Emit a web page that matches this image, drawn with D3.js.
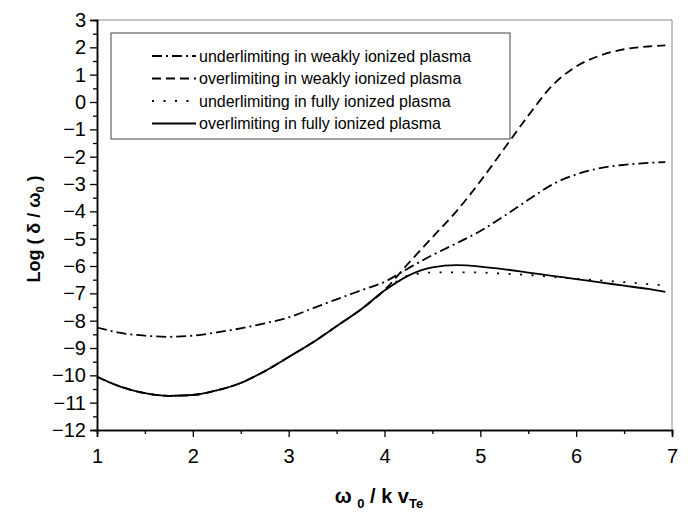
<!DOCTYPE html>
<html>
<head>
<meta charset="utf-8">
<script src="https://cdn.jsdelivr.net/npm/d3@7"></script>
<style>
  body { margin: 0; background: #fff; }
  text { font-family: "Liberation Sans", Arial, sans-serif; }
</style>
</head>
<body>
<svg id="chart"></svg>
<script>
// x positions (omega0 / k vTe) shared by all curves
const xValues = [1, 1.25, 1.5, 1.75, 2, 2.25, 2.5, 2.75, 3, 3.25, 3.5, 3.75, 4,
  4.25, 4.5, 4.75, 5, 5.25, 5.5, 5.75, 6, 6.25, 6.5, 6.75, 6.93];

const underWeak = [-8.25, -8.45, -8.55, -8.59, -8.55, -8.43, -8.28, -8.1, -7.88,
  -7.55, -7.22, -6.9, -6.58, -6.08, -5.6, -5.17, -4.72, -4.17, -3.58, -3.02,
  -2.65, -2.42, -2.3, -2.23, -2.2];
const overWeak = [-10.05, -10.42, -10.65, -10.75, -10.72, -10.55, -10.28, -9.85,
  -9.33, -8.8, -8.2, -7.6, -6.88, -5.9, -4.95, -4.0, -2.9, -1.7, -0.5, 0.6, 1.3,
  1.7, 1.93, 2.03, 2.07];
const underFull = [-10.05, -10.42, -10.65, -10.75, -10.72, -10.55, -10.28, -9.85,
  -9.33, -8.8, -8.2, -7.6, -6.9, -6.35, -6.24, -6.23, -6.24, -6.28, -6.33, -6.4,
  -6.47, -6.53, -6.59, -6.66, -6.71];
const overFull = [-10.05, -10.42, -10.65, -10.75, -10.72, -10.55, -10.28, -9.85,
  -9.33, -8.8, -8.2, -7.6, -6.9, -6.35, -6.05, -5.97, -6.02, -6.12, -6.24, -6.36,
  -6.48, -6.6, -6.72, -6.84, -6.95];

const seriesNames = [
  "underlimiting in weakly ionized plasma",
  "overlimiting in weakly ionized plasma",
  "underlimiting in fully ionized plasma",
  "overlimiting in fully ionized plasma",
];
const seriesValues = [underWeak, overWeak, underFull, overFull];
const dashes = ["10,4,2,4", "9,5", "2,9.5", null];

const xTicks = [1, 2, 3, 4, 5, 6, 7];
const yTicks = d3.range(-12, 4, 1);

const width = 692;
const height = 512;
const plotLeft = 97, plotRight = 672, plotTop = 20, plotBottom = 430;

const svg = d3.select("#chart").attr("width", width).attr("height", height);
svg.append("rect").attr("width", width).attr("height", height).attr("fill", "#fff");

const xScale = d3.scaleLinear().domain([1, 7]).range([plotLeft, plotRight]);
const yScale = d3.scaleLinear().domain([-12, 3]).range([plotBottom, plotTop]);

// frame top + right (grey)
svg.append("path")
  .attr("d", `M${plotLeft},${plotTop}H${plotRight}V${plotBottom}`)
  .attr("fill", "none")
  .attr("stroke", "#888")
  .attr("stroke-width", 1);

// axes
const xAxis = d3.axisBottom(xScale).tickValues(xTicks).tickFormat(d3.format("d"))
  .tickSize(7).tickPadding(11);
const xMinor = d3.axisBottom(xScale).tickValues(d3.range(1.5, 7, 1)).tickFormat("")
  .tickSize(4);
const yAxis = d3.axisLeft(yScale).tickValues(yTicks).tickFormat(d3.format("d"))
  .tickSize(7).tickPadding(4);
const yMinor = d3.axisLeft(yScale).tickValues(d3.range(-11.5, 3, 1)).tickFormat("")
  .tickSize(4);

const gx = svg.append("g").attr("id", "x-axis")
  .attr("transform", "translate(0," + plotBottom + ")").call(xAxis);
svg.append("g").attr("transform", "translate(0," + plotBottom + ")").call(xMinor);
const gy = svg.append("g").attr("id", "y-axis")
  .attr("transform", "translate(" + plotLeft + ",0)").call(yAxis);
svg.append("g").attr("transform", "translate(" + plotLeft + ",0)").call(yMinor);

svg.selectAll(".domain").attr("stroke", "#000").attr("stroke-width", 1.5);
svg.selectAll(".tick line").attr("stroke", "#000").attr("stroke-width", 1.3);
svg.selectAll(".tick text")
  .attr("font-family", "Liberation Sans, Arial, sans-serif")
  .attr("font-size", 20)
  .attr("fill", "#000");
gx.selectAll(".tick text").attr("dy", "0.75em");

// curves
const line = d3.line()
  .x((d) => xScale(d[0]))
  .y((d) => yScale(d[1]))
  .curve(d3.curveMonotoneX);

seriesValues.forEach((vals, i) => {
  svg.append("path")
    .datum(xValues.map((x, j) => [x, vals[j]]))
    .attr("d", line)
    .attr("fill", "none")
    .attr("stroke", "#000")
    .attr("stroke-width", 1.8)
    .attr("stroke-dasharray", dashes[i]);
});

// legend
const legend = svg.append("g").attr("id", "legend");
legend.append("rect")
  .attr("x", 111).attr("y", 33)
  .attr("width", 399).attr("height", 106)
  .attr("fill", "#fff")
  .attr("stroke", "#444")
  .attr("stroke-width", 1);

seriesNames.forEach((name, i) => {
  const y = 56 + i * 22.5;
  legend.append("line")
    .attr("x1", 152).attr("x2", 196)
    .attr("y1", y).attr("y2", y)
    .attr("stroke", "#000")
    .attr("stroke-width", 1.8)
    .attr("stroke-dasharray", dashes[i]);
  legend.append("text")
    .attr("x", 199).attr("y", y)
    .attr("dy", "0.35em")
    .attr("font-size", 16)
    .text(name);
});

// axis titles
const xTitle = svg.append("text")
  .attr("x", 379).attr("y", 503)
  .attr("text-anchor", "middle")
  .attr("font-size", 20)
  .attr("font-weight", "bold");
xTitle.append("tspan").text("ω ");
xTitle.append("tspan").attr("font-size", 13).attr("dy", 5).text("0");
xTitle.append("tspan").attr("dy", -5).text(" / k v");
xTitle.append("tspan").attr("font-size", 13).attr("dy", 5).text("Te");

const yTitle = svg.append("text")
  .attr("transform", "translate(40,229) rotate(-90)")
  .attr("text-anchor", "middle")
  .attr("font-size", 18)
  .attr("font-weight", "bold");
yTitle.append("tspan").text("Log ( δ / ω");
yTitle.append("tspan").attr("font-size", 11).attr("dy", 4).text("0");
yTitle.append("tspan").attr("dy", -4).text(" )");
</script>
</body>
</html>
